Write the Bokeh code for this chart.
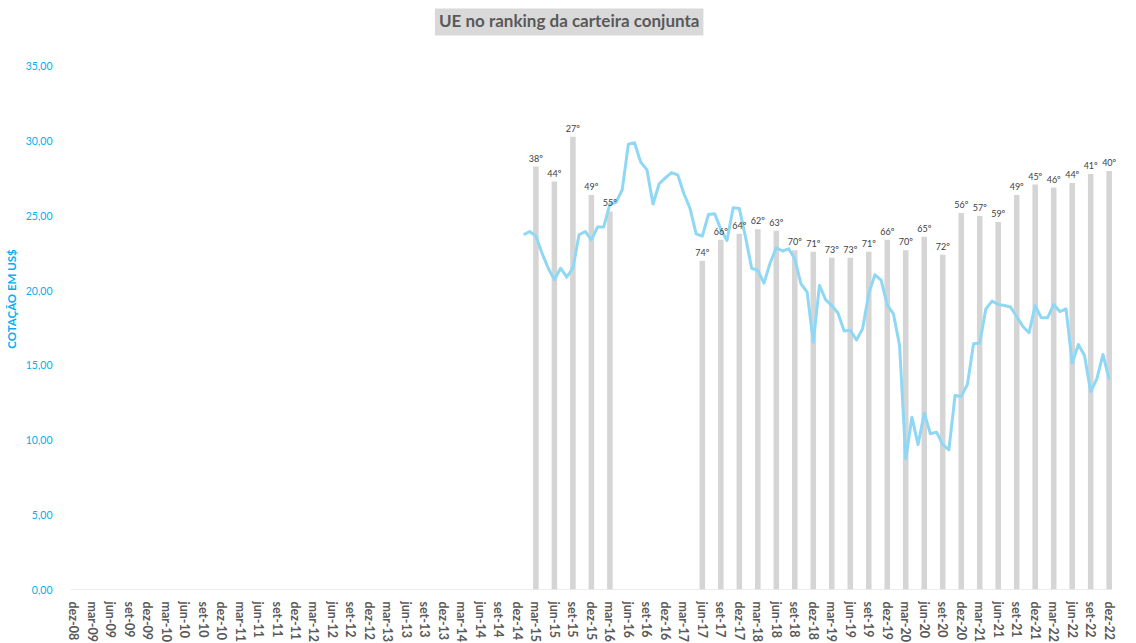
from bokeh.plotting import figure
from bokeh.models import Range1d, FixedTicker, ColumnDataSource, LabelSet, Label
from bokeh.embed import file_html
from bokeh.resources import INLINE
from bokeh.core.properties import value

# ---- categories ----
MESES = ["jan", "fev", "mar", "abr", "mai", "jun", "jul", "ago", "set", "out", "nov", "dez"]
months = ["dez-08"] + [f"{m}-{y:02d}" for y in range(9, 23) for m in MESES]

# ---- monthly share price (US$), jan-15 .. dez-22 ----
price_start = "jan-15"
price = [
    23.74, 23.96, 23.65, 22.50, 21.50, 20.73, 21.50, 20.90, 21.50, 23.74, 23.96, 23.40,   # 2015
    24.25, 24.25, 25.80, 25.90, 26.75, 29.80, 29.90, 28.60, 28.10, 25.80, 27.15, 27.55,   # 2016
    27.90, 27.75, 26.50, 25.50, 23.80, 23.65, 25.10, 25.15, 24.10, 23.36, 25.55, 25.50,   # 2017
    23.60, 21.50, 21.35, 20.50, 21.85, 22.87, 22.65, 22.80, 22.13, 20.46, 19.90, 16.55,   # 2018
    20.35, 19.40, 19.00, 18.50, 17.30, 17.35, 16.70, 17.45, 19.80, 21.06, 20.70, 19.05,   # 2019
    18.45, 16.33, 8.75, 11.53, 9.70, 11.80, 10.42, 10.53, 9.70, 9.35, 12.99, 12.92,       # 2020
    13.72, 16.44, 16.50, 18.78, 19.30, 19.07, 19.00, 18.90, 18.27, 17.60, 17.18, 19.00,   # 2021
    18.18, 18.18, 19.07, 18.60, 18.78, 15.15, 16.40, 15.66, 13.25, 14.10, 15.73, 14.04,   # 2022
]

# ---- ranking in the joint portfolio (quarterly bars) ----
bar_months = ["mar-15", "jun-15", "set-15", "dez-15", "mar-16",
              "jun-17", "set-17", "dez-17",
              "mar-18", "jun-18", "set-18", "dez-18",
              "mar-19", "jun-19", "set-19", "dez-19",
              "mar-20", "jun-20", "set-20", "dez-20",
              "mar-21", "jun-21", "set-21", "dez-21",
              "mar-22", "jun-22", "set-22", "dez-22"]
bar_heights = [28.3, 27.3, 30.3, 26.4, 25.3,
               22.0, 23.4, 23.8,
               24.1, 24.0, 22.7, 22.6,
               22.2, 22.2, 22.6, 23.4,
               22.7, 23.6, 22.4, 25.2,
               25.0, 24.6, 26.4, 27.1,
               26.9, 27.2, 27.8, 28.0]
bar_ranks = [38, 44, 27, 49, 55,
             74, 66, 64,
             62, 63, 70, 71,
             73, 73, 71, 66,
             70, 65, 72, 56,
             57, 59, 49, 45,
             46, 44, 41, 40]

y_ticks = [0, 5, 10, 15, 20, 25, 30, 35]
title_text = "UE no ranking da carteira conjunta"

# ---- sources ----
idx = {m: i for i, m in enumerate(months)}
p0 = idx[price_start]
line_src = ColumnDataSource(dict(x=list(range(p0, p0 + len(price))), y=price))
bar_src = ColumnDataSource(dict(
    x=[idx[m] for m in bar_months],
    top=bar_heights,
    label=[f"{r}º" for r in bar_ranks],
))

FONT = "Lato"
BLUE = "#00B0F0"
GREY_TXT = "#595959"

x_start, x_end = -0.5, len(months) - 0.5

p = figure(
    frame_width=1051, frame_height=581,
    min_border_left=70, min_border_right=15, min_border_top=8, min_border_bottom=51,
    x_range=Range1d(x_start, x_end + 1.5),
    y_range=Range1d(0, 38.88),
    output_backend="svg", toolbar_location=None,
    background_fill_color="white", border_fill_color="white",
)
p.outline_line_color = None
p.xgrid.visible = False
p.ygrid.visible = False

# category axis baseline
p.segment(x0=[x_start], y0=[0], x1=[x_end], y1=[0], line_color="#D9D9D9", line_width=1)

p.vbar(x="x", top="top", width=0.9, bottom=0, source=bar_src,
       fill_color="#D5D5D5", line_color=None)
p.line(x="x", y="y", source=line_src, line_color="#8FD8F5", line_width=3,
       line_join="round")
labels = LabelSet(x="x", y="top", text="label", source=bar_src,
                  text_align="center", text_baseline="bottom", y_offset=3,
                  text_font=value(FONT), text_font_size=value("9px"),
                  text_color=value("#404040"))
p.add_layout(labels)

# title box, in the headroom above the 35,00 tick
title = Label(x=80.4, y=38.05, text=title_text,
              text_align="center", text_baseline="middle",
              text_font=FONT, text_font_style="bold", text_font_size="17px",
              text_color=GREY_TXT, background_fill_color="#D9D9D9",
              padding=4)
p.add_layout(title)

# x axis
xt = list(range(0, len(months), 3))
p.xaxis.ticker = FixedTicker(ticks=xt)
p.xaxis.major_label_overrides = {i: months[i] for i in xt}
p.xaxis.major_label_orientation = "vertical"
p.xaxis.major_label_text_font = FONT
p.xaxis.major_label_text_font_style = "bold"
p.xaxis.major_label_text_font_size = "12.5px"
p.xaxis.major_label_text_color = GREY_TXT
p.xaxis.major_label_standoff = 6
p.xaxis.axis_line_color = None
p.xaxis.major_tick_line_color = None
p.xaxis.minor_tick_line_color = None

# y axis
p.yaxis.ticker = FixedTicker(ticks=y_ticks)
p.yaxis.major_label_overrides = {v: f"{v:.2f}".replace(".", ",") for v in y_ticks}
p.yaxis.major_label_text_font = FONT
p.yaxis.major_label_text_font_size = "10.5px"
p.yaxis.major_label_text_color = BLUE
p.yaxis.major_label_standoff = 12
p.yaxis.axis_line_color = None
p.yaxis.major_tick_line_color = None
p.yaxis.minor_tick_line_color = None
p.yaxis.axis_label = "COTAÇÃO EM US$"
p.yaxis.axis_label_text_font = FONT
p.yaxis.axis_label_text_font_style = "bold"
p.yaxis.axis_label_text_font_size = "11.5px"
p.yaxis.axis_label_text_color = BLUE
p.yaxis.axis_label_standoff = 5

open("out.html", "w").write(file_html(p, INLINE))
